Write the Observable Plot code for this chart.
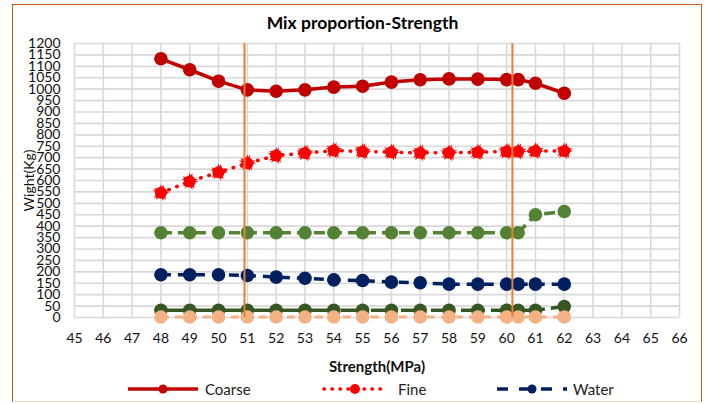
<!DOCTYPE html>
<html>
<head>
<meta charset="utf-8">
<script src="https://cdn.jsdelivr.net/npm/d3@7"></script>
<script src="https://cdn.jsdelivr.net/npm/@observablehq/plot@0.6"></script>
<style>
  html, body { margin: 0; padding: 0; background: #fff; }
  body { width: 705px; height: 404px; position: relative; overflow: hidden; font-family: Lato, "Open Sans", sans-serif; }
  #frame { position: absolute; left: 12px; top: 4px; width: 688px; height: 396px;
           border: 1.5px solid #C55A11; border-bottom-color: #f3dccd; }
  #title { position: absolute; left: 0; width: 725px; top: 12px; text-align: center;
           font-weight: bold; font-size: 17.5px; color: #000; }
  #chart { position: absolute; left: 0; top: 35px; }
  #chart svg [aria-label="x-axis label"] text { font-weight: bold; font-size: 15px; }
  #chart svg [aria-label="y-axis label"] text { font-size: 14px; }
  .leg { position: absolute; top: 380px; height: 18px; font-size: 15px; color: #222; }
  .leg span { position: absolute; top: 0; white-space: nowrap; line-height: 18px; }
</style>
</head>
<body>
<div id="frame"></div>
<div id="title">Mix proportion-Strength</div>
<div id="chart"></div>
<div id="legend"></div>
<script>
// ---- data ----
const strength = [48, 49, 50, 51, 52, 53, 54, 55, 56, 57, 58, 59, 60, 60.4, 61, 62];
const coarse   = [1133, 1085, 1035, 997, 991, 997, 1009, 1013, 1031, 1041, 1045, 1044, 1042, 1042, 1026, 982];
const fine     = [546, 596, 636, 676, 709, 720, 731, 727, 724, 721, 721, 724, 727, 727, 729, 729];
const water    = [187, 187, 187, 184, 177, 172, 165, 162, 155, 152, 146, 146, 146, 146, 146, 146];
const cement   = [371, 371, 371, 371, 371, 371, 371, 371, 371, 371, 371, 371, 371, 371, 450, 464];
const silica   = [32, 32, 32, 32, 32, 32, 32, 32, 32, 32, 32, 32, 32, 32, 32, 48];
const admix    = [2, 2, 2, 2, 2, 2, 2, 2, 2, 2, 2, 2, 2, 2, 2, 2];
const markerLines = [50.9, 60.2];
const xTicks = d3.range(45, 67);
const yTicks = d3.range(0, 1201, 50);

const seriesNames  = ["Coarse", "Fine", "Water", "Cement", "Silica", "Admixture"];
const seriesValues = [coarse, fine, water, cement, silica, admix];
const styles = {
  Coarse:    {color: "#C00000", dash: null,     width: 3.5},
  Fine:      {color: "#FF0000", dash: "0.5 8",  width: 3.5},
  Water:     {color: "#002060", dash: "10 7",   width: 3.5},
  Cement:    {color: "#548235", dash: "11 6",   width: 3.5},
  Silica:    {color: "#375623", dash: "24 6",   width: 3.5},
  Admixture: {color: "#F4B183", dash: "8 6",    width: 3}
};

const table = seriesNames.map((name, i) =>
  strength.map((s, j) => ({series: name, x: s, y: seriesValues[i][j]})));

const marks = [
  Plot.gridX(xTicks, {stroke: "#d9d9d9", strokeOpacity: 1, strokeWidth: 1.6}),
  Plot.gridY(yTicks, {stroke: "#d9d9d9", strokeOpacity: 1, strokeWidth: 1.6}),
  Plot.axisY({ticks: yTicks, tickSize: 0, tickPadding: 14, fontSize: 14, label: "Wight(Kg)",
              labelAnchor: "center", labelArrow: "none", labelOffset: 50, tickFormat: d3.format("d")}),
  Plot.axisX({ticks: xTicks, tickSize: 0, tickPadding: 16, fontSize: 14, label: "Strength(MPa)",
              labelAnchor: "center", labelArrow: "none", labelOffset: 54, tickFormat: d3.format("d")})
];
table.forEach(rows => {
  const st = styles[rows[0].series];
  const isFine = rows[0].series === "Fine";
  marks.push(Plot.line(rows, {x: "x", y: "y", stroke: st.color, strokeWidth: st.width,
    strokeDasharray: st.dash, strokeLinecap: isFine ? "round" : "butt"}));
  if (isFine) {
    marks.push(Plot.dot(rows, {x: "x", y: "y", r: 5.2, symbol: "star", fill: st.color, rotate: 18}));
    marks.push(Plot.dot(rows, {x: "x", y: "y", r: 5.2, symbol: "star", fill: st.color}));
    marks.push(Plot.dot(rows, {x: "x", y: "y", r: 6, fill: st.color}));
  } else {
    marks.push(Plot.dot(rows, {x: "x", y: "y", r: 6.8, fill: st.color}));
  }
});
marks.push(Plot.ruleX(markerLines, {stroke: "#ED7D31", strokeWidth: 2}));

const chart = Plot.plot({
  width: 705, height: 340,
  marginLeft: 74, marginRight: 26, marginTop: 8, marginBottom: 58,
  style: {fontFamily: "Lato, 'Open Sans', sans-serif", color: "#111", background: "transparent"},
  x: {domain: [45, 66]},
  y: {domain: [0, 1200]},
  marks
});
document.getElementById("chart").appendChild(chart);

// legend (only the first three series are visible in the reference)
const legendItems = [
  {name: "Coarse", x0: 128, x1: 198, tx: 205},
  {name: "Fine",   x0: 322, x1: 388, tx: 398},
  {name: "Water",  x0: 497, x1: 567, tx: 573}
];
const legend = document.getElementById("legend");
legendItems.forEach(it => {
  const st = styles[it.name];
  const w = it.x1 - it.x0;
  const div = document.createElement("div");
  div.className = "leg";
  div.style.left = it.x0 + "px";
  const ns = "http://www.w3.org/2000/svg";
  const svg = document.createElementNS(ns, "svg");
  svg.setAttribute("width", w); svg.setAttribute("height", 18);
  svg.style.position = "absolute"; svg.style.left = "0px"; svg.style.top = "0px";
  const line = document.createElementNS(ns, "line");
  line.setAttribute("x1", it.name === "Fine" ? 2 : 0); line.setAttribute("x2", w);
  line.setAttribute("y1", 9); line.setAttribute("y2", 9);
  line.setAttribute("stroke", st.color); line.setAttribute("stroke-width", st.width);
  if (st.dash) line.setAttribute("stroke-dasharray", it.name === "Water" ? "11 11" : "0.5 7.5");
  if (it.name === "Fine") line.setAttribute("stroke-linecap", "round");
  svg.appendChild(line);
  const c = document.createElementNS(ns, "circle");
  c.setAttribute("cx", w / 2); c.setAttribute("cy", 9); c.setAttribute("r", it.name === "Fine" ? 5 : 4.5);
  c.setAttribute("fill", st.color);
  svg.appendChild(c);
  div.appendChild(svg);
  const label = document.createElement("span");
  label.textContent = it.name;
  label.style.left = (it.tx - it.x0) + "px";
  div.appendChild(label);
  legend.appendChild(div);
});
</script>
</body>
</html>
